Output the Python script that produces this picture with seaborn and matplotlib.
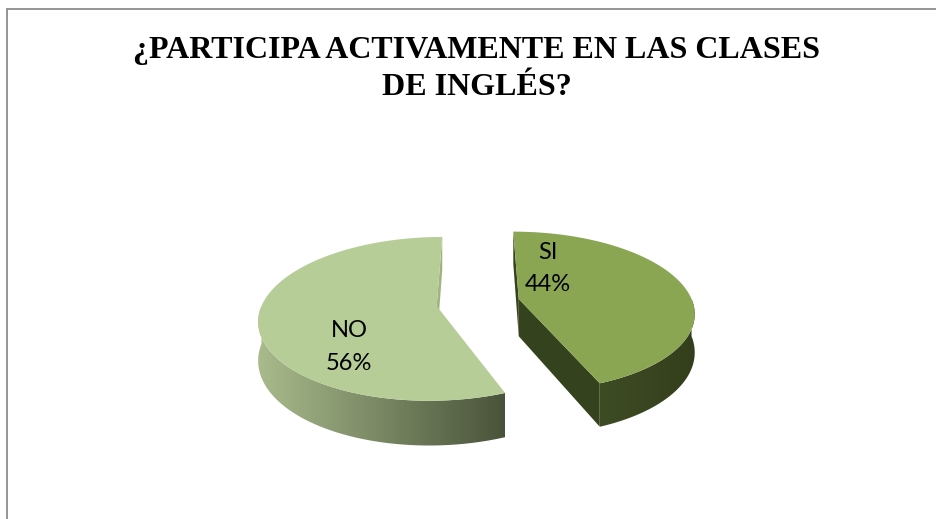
import numpy as np
import matplotlib
matplotlib.use("Agg")
import matplotlib.pyplot as plt
import matplotlib.colors as mcolors
from matplotlib.patches import Polygon
from matplotlib.lines import Line2D
from matplotlib.path import Path
from matplotlib.transforms import Transform
import seaborn as sns

# ---- data ----
categories = ["SI", "NO"]
values = [44, 56]
pct_labels = ["44%", "56%"]
title_text = "¿PARTICIPA ACTIVAMENTE EN LAS CLASES\nDE INGLÉS?"

# ---- style ----
top_colors = ["#8AA653", "#B7CD97"]
wall_colors = [("#3E4C24", "#333F1C"), ("#A9BB8C", "#49533A")]
cut_colors = ["#35421E", "#9FB47F"]

sns.set_theme(style="white")
plt.rcParams['font.family'] = ['DejaVu Sans']

W, H = 936, 519
fig = plt.figure(figsize=(W / 100, H / 100), dpi=100)
fig.patch.set_facecolor("white")
ax = fig.add_axes([0, 0, 1, 1])

RX, RY = 174.0, 78.8      # px per data unit
CX, CY = 478.0, 302.5     # pie centre in px (from top-left)
K = 0.155                 # perspective strength
HD = 37.5 / RY            # slab thickness in data units
EXPLODE = 0.24


class Persp(Transform):
    input_dims = 2
    output_dims = 2
    is_separable = False
    has_inverse = False

    def __init__(self, k):
        super().__init__()
        self.k = k

    def transform_non_affine(self, values):
        v = np.asarray(values, dtype=float).reshape(-1, 2)
        s = 1.0 / (1.0 + self.k * v[:, 1])
        return np.column_stack([v[:, 0] * s, v[:, 1] * s])

    def transform_path_non_affine(self, path):
        pts = []
        for seg, code in path.iter_bezier():
            n = 1 if code == Path.MOVETO else (2 if code in (Path.LINETO, Path.CLOSEPOLY) else 60)
            pts.append(seg(np.linspace(0, 1, n)))
        pts = np.concatenate(pts)
        return Path(self.transform_non_affine(pts), closed=False)


persp = Persp(K)


def proj(u, v, h=0.0):
    u = np.asarray(u, float)
    v = np.asarray(v, float)
    s = 1.0 / (1.0 + K * v)
    return np.column_stack([np.atleast_1d(u * s), np.atleast_1d((v - h * HD) * s)])


wedges, _ = ax.pie(values, startangle=90, counterclock=False,
                   colors=top_colors, explode=[EXPLODE, EXPLODE],
                   wedgeprops=dict(linewidth=0, zorder=5))
for w in wedges:
    w.set_transform(persp + ax.transData)
ax.set_aspect('auto')
ax.set_xlim(-CX / RX, (W - CX) / RX)
ax.set_ylim(-(H - CY) / RY, CY / RY)
ax.axis('off')


def front_range(t1, t2):
    for lo, hi in [(-540, -360), (-180, 0), (180, 360)]:
        a, b = max(t1, lo), min(t2, hi)
        if b > a:
            return a, b
    return None


cam = np.array([0.0, -1.0 / K])

for i, w in enumerate(wedges):
    cx, cy = w.center
    t1, t2 = w.theta1, w.theta2
    # outer wall
    fr = front_range(t1, t2)
    if fr is not None:
        th = np.radians(np.linspace(fr[0], fr[1], 200))
        u = cx + np.cos(th)
        v = cy + np.sin(th)
        top = proj(u, v, 0)
        bot = proj(u, v, 1)
        pts = np.concatenate([top, bot[::-1]])
        poly = Polygon(pts, closed=True, facecolor="none", edgecolor="none", zorder=2)
        ax.add_patch(poly)
        cmap = mcolors.LinearSegmentedColormap.from_list("g%d" % i, list(wall_colors[i]))
        grad = np.linspace(0, 1, 256)[None, :]
        im = ax.imshow(grad, cmap=cmap, aspect='auto', zorder=2,
                       extent=[pts[:, 0].min(), pts[:, 0].max(), pts[:, 1].min(), pts[:, 1].max()],
                       interpolation='bilinear')
        im.set_clip_path(poly)
    # cut faces (visible ones, seen from the camera)
    for a, nang in [(t1, t1 - 90), (t2, t2 + 90)]:
        ar, nr = np.radians(a), np.radians(nang)
        n = np.array([np.cos(nr), np.sin(nr)])
        mid = np.array([cx + 0.5 * np.cos(ar), cy + 0.5 * np.sin(ar)])
        if n @ (cam - mid) > 0:
            ex, ey = cx + np.cos(ar), cy + np.sin(ar)
            corners = np.concatenate([proj([cx, ex], [cy, ey], 0), proj([ex, cx], [ey, cy], 1)])
            face = Polygon(corners, closed=True, facecolor=cut_colors[i],
                           edgecolor="none", zorder=3)
            ax.add_patch(face)

# labels
label_pos_px = [(548, 268.5), (349, 347)]
for cat, pct, (px, py) in zip(categories, pct_labels, label_pos_px):
    ax.text((px - CX) / RX, (CY - py) / RY, f"{cat}\n{pct}", ha="center", va="center",
            fontsize=17, family=["Lato", "DejaVu Sans"], color="black",
            linespacing=1.66, zorder=8)

# title
fig.text(477 / W, 1 - 69 / H, title_text, ha="center", va="center",
         family=["Liberation Serif", "DejaVu Serif"], fontweight="bold",
         fontsize=23, linespacing=1.33, color="black")

# chart-area border (top and left visible)
fig.add_artist(Line2D([7.5 / W, 1.0], [1 - 8.5 / H, 1 - 8.5 / H], transform=fig.transFigure,
                      color="#8C8C8C", lw=1.3))
fig.add_artist(Line2D([7.5 / W, 7.5 / W], [1 - 8.5 / H, 0.0], transform=fig.transFigure,
                      color="#8C8C8C", lw=1.3))

fig.savefig("out.png", dpi=100, facecolor="white")
